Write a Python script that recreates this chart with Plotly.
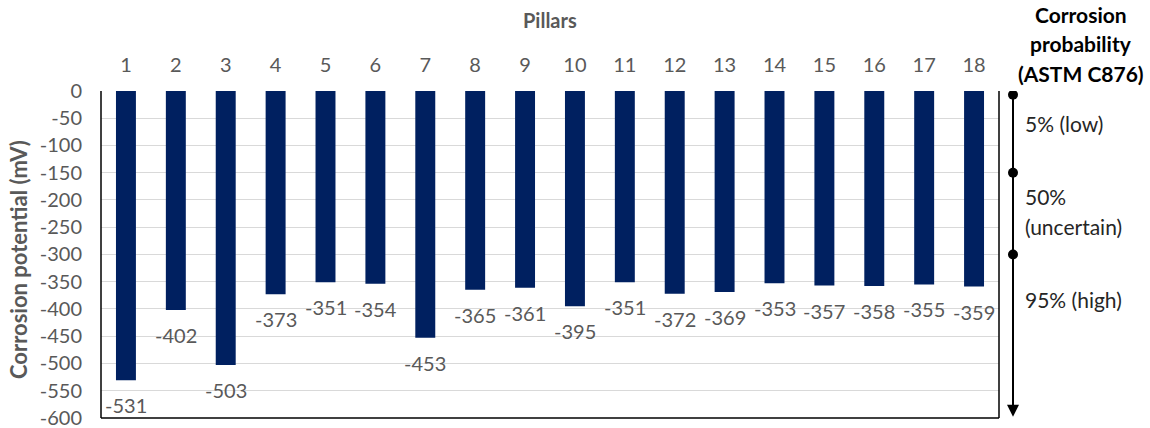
import plotly.graph_objects as go

pillars = [str(i) for i in range(1, 19)]
potential_mv = [-531, -402, -503, -373, -351, -354, -453, -365, -361,
                -395, -351, -372, -369, -353, -357, -358, -355, -359]
y_ticks = list(range(0, -601, -50))
y_tick_text = [str(v) for v in y_ticks]

# ASTM C876 probability bands (threshold potentials in mV) and their labels
band_limits = [0, -150, -300]
band_labels = [("5% (low)", -59), ("50%", -194), ("(uncertain)", -249), ("95% (high)", -383)]
scale_title = ["Corrosion", "probability", "(ASTM C876)"]

FONT = "Lato, Carlito, Liberation Sans, sans-serif"
GREY = "#595959"
TOP, BOTTOM, LEFT, RIGHT = 91, 418, 101, 999
PLOT_H = BOTTOM - TOP
PLOT_W = RIGHT - LEFT


def px_x(x):
    return (x - LEFT) / PLOT_W


def px_y(y):
    return (BOTTOM - y) / PLOT_H


fig = go.Figure()
fig.add_trace(go.Bar(
    x=pillars, y=potential_mv,
    marker=dict(color="#002060", line=dict(width=0)),
    width=0.4,
))

# value labels under each bar end (category axis: position by category index)
for idx, v in enumerate(potential_mv):
    fig.add_annotation(x=idx, y=v, xref="x", yref="y", yshift=-25,
                       xanchor="center", yanchor="middle", showarrow=False,
                       text=str(v), font=dict(size=20, color=GREY))

fig.update_layout(
    width=1150, height=428,
    margin=dict(l=LEFT, r=1150 - RIGHT, t=TOP, b=428 - BOTTOM),
    plot_bgcolor="white", paper_bgcolor="white",
    showlegend=False,
    font=dict(family=FONT, color=GREY),
    xaxis=dict(
        side="top", type="category",
        range=[-0.5, len(pillars) - 0.5],
        tickfont=dict(size=20, color=GREY),
        showgrid=False, ticks="", showline=False,
        ticklabelstandoff=14, automargin=False,
    ),
    yaxis=dict(
        range=[-600.2, 0], tickvals=y_ticks, ticktext=y_tick_text,
        tickfont=dict(size=20, color=GREY),
        showgrid=True, gridcolor="#d9d9d9", gridwidth=1,
        zeroline=False, showline=False, ticks="",
        ticklabelstandoff=18, ticklabeloverflow="allow", automargin=False,
    ),
)

# axis titles
fig.add_annotation(x=px_x(550), y=px_y(20), xref="paper", yref="paper",
                   xanchor="center", yanchor="middle", showarrow=False,
                   text="<b>Pillars</b>", font=dict(size=20, color=GREY))
fig.add_annotation(x=px_x(18), y=px_y(260), xref="paper", yref="paper",
                   xanchor="center", yanchor="middle", showarrow=False, textangle=-90,
                   text="<b>Corrosion potential (mV)</b>", font=dict(size=22, color=GREY))

# plot frame: left, bottom and right edges
for x0, x1, y0, y1 in [(0, 0, 0, 1), (0, 1, 0, 0), (1, 1, 0, 1)]:
    fig.add_shape(type="line", xref="paper", yref="paper", x0=x0, x1=x1, y0=y0, y1=y1,
                  line=dict(color="black", width=1.5))

# probability scale: line with arrowhead down the right side
AX = px_x(1013)
fig.add_shape(type="line", xref="paper", yref="y", x0=AX, x1=AX,
              y0=band_limits[0] - 7, y1=-592, line=dict(color="black", width=2))
fig.add_annotation(x=AX, y=-598, xref="paper", yref="y", ax=0, ay=-14,
                   showarrow=True, arrowhead=2, arrowsize=1.2, arrowwidth=2,
                   arrowcolor="black", text="")
for lim in band_limits:
    fig.add_shape(type="circle", xref="paper", yref="y",
                  xsizemode="pixel", ysizemode="pixel",
                  xanchor=AX, yanchor=lim - 7 if lim == 0 else lim,
                  x0=-5, x1=5, y0=-5, y1=5,
                  fillcolor="black", line=dict(color="black", width=0))
for txt, yv in band_labels:
    fig.add_annotation(x=px_x(1023), y=yv, xref="paper", yref="y", xanchor="left",
                       yanchor="middle", align="left", showarrow=False,
                       text=txt, font=dict(size=21, color="#262626"))

for txt, ypx in zip(scale_title, [15, 44, 73]):
    fig.add_annotation(x=px_x(1081), y=px_y(ypx), xref="paper", yref="paper",
                       xanchor="center", yanchor="middle", showarrow=False,
                       text=f"<b>{txt}</b>", font=dict(size=21, color="black"))

fig.write_html("out.html")
